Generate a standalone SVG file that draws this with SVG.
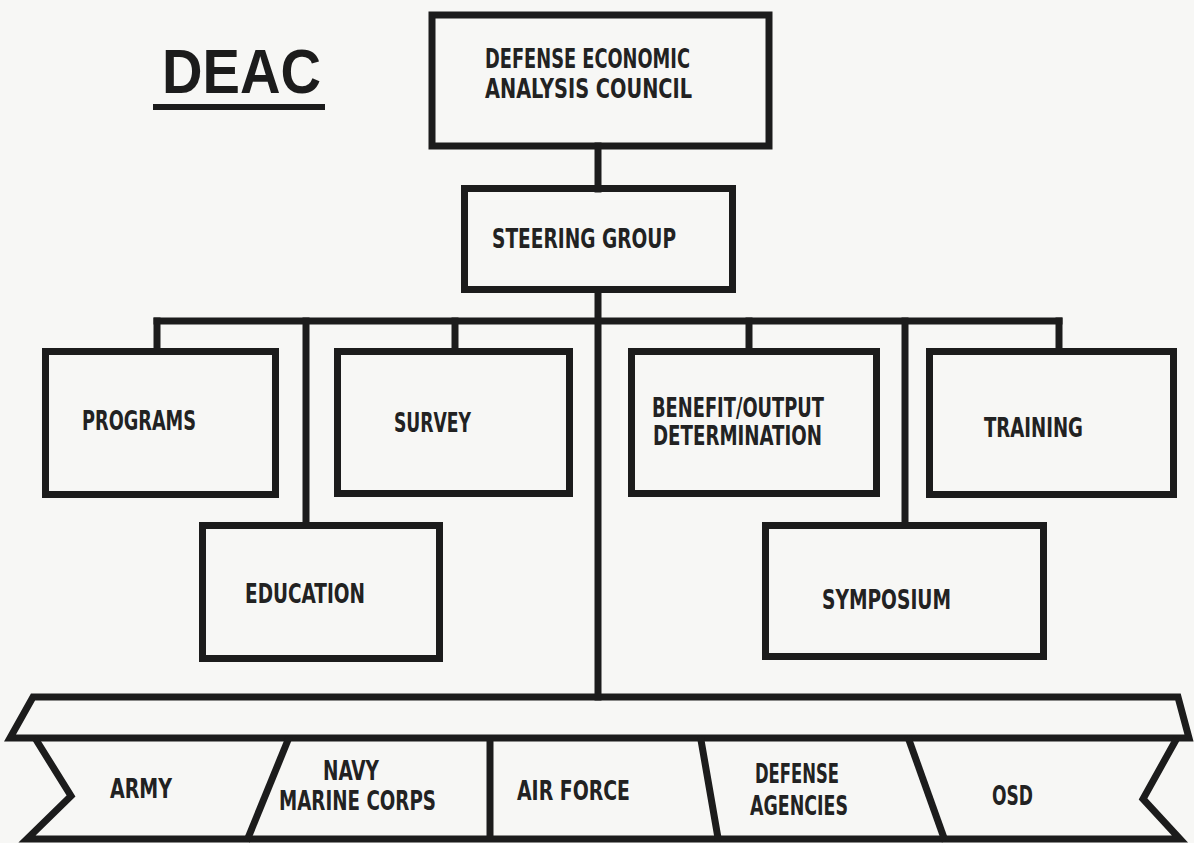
<svg xmlns="http://www.w3.org/2000/svg" width="1194" height="843" viewBox="0 0 1194 843">
<style>
.bx{fill:none;stroke:#1c1c1c;stroke-width:7;stroke-linejoin:miter}
.ln{fill:none;stroke:#1c1c1c;stroke-width:7;stroke-linecap:square}
.t{font-family:"DejaVu Sans Condensed","DejaVu Sans","Liberation Sans",sans-serif;font-weight:bold;font-size:26px;fill:#222}
.title{font-family:"Liberation Sans","DejaVu Sans",sans-serif;font-weight:bold;font-size:63px;fill:#1c1c1c}
</style>
<rect width="1194" height="843" fill="#f7f7f5"/>
<g id="title">
<text class="title" x="162" y="93" textLength="159" lengthAdjust="spacingAndGlyphs">DEAC</text>
<rect x="153" y="104" width="172" height="6" fill="#1c1c1c"/>
</g>
<g id="connectors">
<line class="ln" x1="598" y1="146" x2="598" y2="189"/>
<line class="ln" x1="598" y1="290" x2="598" y2="697"/>
<line class="ln" x1="157" y1="321" x2="1059" y2="321"/>
<line class="ln" x1="157" y1="321" x2="157" y2="351"/>
<line class="ln" x1="306" y1="321" x2="306" y2="525"/>
<line class="ln" x1="455" y1="321" x2="455" y2="351"/>
<line class="ln" x1="749" y1="321" x2="749" y2="351"/>
<line class="ln" x1="905" y1="321" x2="905" y2="525"/>
<line class="ln" x1="1059" y1="321" x2="1059" y2="351"/>
</g>
<g id="council">
<rect class="bx" x="432" y="15" width="337" height="131"/>
<text class="t" x="485" y="68" textLength="205" lengthAdjust="spacingAndGlyphs">DEFENSE ECONOMIC</text>
<text class="t" x="485" y="98" textLength="207" lengthAdjust="spacingAndGlyphs">ANALYSIS COUNCIL</text>
</g>
<g id="steering">
<rect class="bx" x="464.5" y="188.5" width="268" height="101"/>
<text class="t" x="492" y="248" textLength="184" lengthAdjust="spacingAndGlyphs">STEERING GROUP</text>
</g>
<g id="programs">
<rect class="bx" x="45.5" y="351.5" width="230" height="143"/>
<text class="t" x="82" y="430" textLength="114" lengthAdjust="spacingAndGlyphs">PROGRAMS</text>
</g>
<g id="survey">
<rect class="bx" x="337.5" y="351.5" width="232" height="142"/>
<text class="t" x="394" y="432" textLength="77" lengthAdjust="spacingAndGlyphs">SURVEY</text>
</g>
<g id="education">
<rect class="bx" x="202.5" y="525.5" width="237" height="133"/>
<text class="t" x="245" y="603" textLength="120" lengthAdjust="spacingAndGlyphs">EDUCATION</text>
</g>
<g id="benefit">
<rect class="bx" x="631.5" y="351.5" width="245" height="142"/>
<text class="t" x="652" y="417" textLength="172" lengthAdjust="spacingAndGlyphs">BENEFIT/OUTPUT</text>
<text class="t" x="653" y="445" textLength="169" lengthAdjust="spacingAndGlyphs">DETERMINATION</text>
</g>
<g id="training">
<rect class="bx" x="929.5" y="351.5" width="244" height="143"/>
<text class="t" x="984" y="437" textLength="99" lengthAdjust="spacingAndGlyphs">TRAINING</text>
</g>
<g id="symposium">
<rect class="bx" x="765.5" y="525.5" width="278" height="131"/>
<text class="t" x="822" y="609" textLength="129" lengthAdjust="spacingAndGlyphs">SYMPOSIUM</text>
</g>
<g id="band">
<polygon class="bx" points="33,697 1178,697 1189,738 10,738"/>
<path class="bx" d="M35,738 L71,796 L27,839 L1180,839 L1143,799 L1177,738"/>
<line class="ln" x1="288" y1="740" x2="248" y2="838"/>
<line class="ln" x1="490" y1="740" x2="490" y2="838"/>
<line class="ln" x1="701" y1="740" x2="718" y2="838"/>
<line class="ln" x1="909" y1="740" x2="944" y2="838"/>
</g>
<g id="army"><text class="t" x="110" y="798" textLength="62" lengthAdjust="spacingAndGlyphs">ARMY</text></g>
<g id="navy">
<text class="t" x="323" y="780" textLength="56" lengthAdjust="spacingAndGlyphs">NAVY</text>
<text class="t" x="279" y="810" textLength="157" lengthAdjust="spacingAndGlyphs">MARINE CORPS</text>
</g>
<g id="airforce"><text class="t" x="517" y="800" textLength="113" lengthAdjust="spacingAndGlyphs">AIR FORCE</text></g>
<g id="agencies">
<text class="t" x="755" y="783" textLength="84" lengthAdjust="spacingAndGlyphs">DEFENSE</text>
<text class="t" x="750" y="815" textLength="98" lengthAdjust="spacingAndGlyphs">AGENCIES</text>
</g>
<g id="osd"><text class="t" x="992" y="805" textLength="41" lengthAdjust="spacingAndGlyphs">OSD</text></g>
</svg>
